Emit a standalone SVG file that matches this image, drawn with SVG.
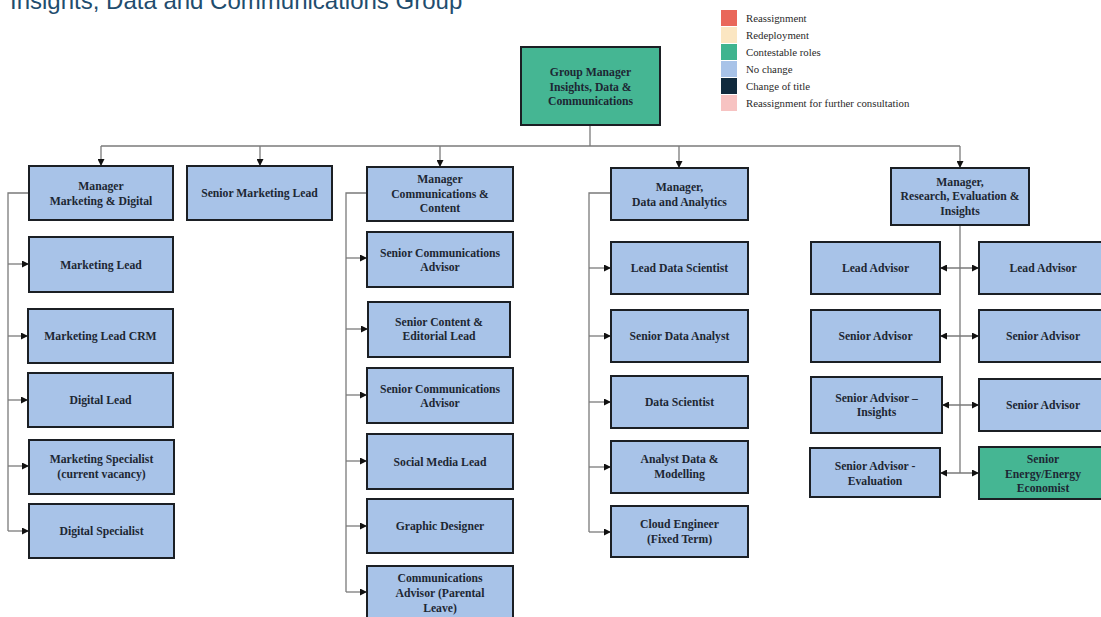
<svg xmlns="http://www.w3.org/2000/svg" width="1101" height="617" viewBox="0 0 1101 617">
  <style>
    .box { fill: #a8c3e8; stroke: #1b1f24; stroke-width: 2; }
    .green { fill: #45b693; stroke: #1b1f24; stroke-width: 2; }
    .lbl { font-family: "Liberation Serif", "DejaVu Serif", serif; font-weight: bold; font-size: 11.7px; fill: #1d2733; text-anchor: middle; }
    .leg { font-family: "Liberation Serif", "DejaVu Serif", serif; font-size: 10.8px; fill: #2a2a2a; }
    .title { font-family: "Liberation Sans", Arial, sans-serif; font-size: 24px; fill: #1f4d6e; }
    .conn { fill: none; stroke: #7a7a7a; stroke-width: 1.3; }
  </style>
  <defs>
    <marker id="arrow" markerWidth="7" markerHeight="7" refX="7" refY="3.5" orient="auto" markerUnits="userSpaceOnUse">
      <path d="M0,0 L7,3.5 L0,7 z" fill="#111"/>
    </marker>
    <marker id="arrowStart" markerWidth="7" markerHeight="7" refX="0" refY="3.5" orient="auto" markerUnits="userSpaceOnUse">
      <path d="M7,0 L0,3.5 L7,7 z" fill="#111"/>
    </marker>
  </defs>
  <rect width="1101" height="617" fill="#ffffff"/>

  <text class="title" x="10" y="9">Insights, Data and Communications Group</text>

  <!-- legend -->
  <g id="legend">
    <rect x="721" y="10" width="16" height="16" fill="#e9675a"/>
    <rect x="721" y="27" width="16" height="16" fill="#fbe6c2"/>
    <rect x="721" y="44" width="16" height="16" fill="#3fb48f"/>
    <rect x="721" y="61" width="16" height="16" fill="#a8c3e8"/>
    <rect x="721" y="78" width="16" height="16" fill="#112b3e"/>
    <rect x="721" y="95" width="16" height="16" fill="#f7c3c2"/>
    <text class="leg" x="746" y="21.5">Reassignment</text>
    <text class="leg" x="746" y="38.5">Redeployment</text>
    <text class="leg" x="746" y="55.5">Contestable roles</text>
    <text class="leg" x="746" y="72.5">No change</text>
    <text class="leg" x="746" y="89.5">Change of title</text>
    <text class="leg" x="746" y="106.5">Reassignment for further consultation</text>
  </g>

  <!-- connectors -->
  <g id="connectors">
    <path class="conn" d="M590,125 V146"/>
    <path class="conn" d="M101,146 H960"/>
    <path class="conn" d="M101,146 V166" marker-end="url(#arrow)"/>
    <path class="conn" d="M260,146 V166" marker-end="url(#arrow)"/>
    <path class="conn" d="M440,146 V167" marker-end="url(#arrow)"/>
    <path class="conn" d="M679,146 V168" marker-end="url(#arrow)"/>
    <path class="conn" d="M960,146 V168" marker-end="url(#arrow)"/>

    <!-- marketing & digital -->
    <path class="conn" d="M29,193 H8 V531"/>
    <path class="conn" d="M8,264 H29" marker-end="url(#arrow)"/>
    <path class="conn" d="M8,336 H28" marker-end="url(#arrow)"/>
    <path class="conn" d="M8,400 H28" marker-end="url(#arrow)"/>
    <path class="conn" d="M8,466 H29" marker-end="url(#arrow)"/>
    <path class="conn" d="M8,531 H29" marker-end="url(#arrow)"/>

    <!-- communications & content -->
    <path class="conn" d="M367,193 H346 V592"/>
    <path class="conn" d="M346,258 H367" marker-end="url(#arrow)"/>
    <path class="conn" d="M346,329 H368" marker-end="url(#arrow)"/>
    <path class="conn" d="M346,395 H367" marker-end="url(#arrow)"/>
    <path class="conn" d="M346,461 H367" marker-end="url(#arrow)"/>
    <path class="conn" d="M346,526 H367" marker-end="url(#arrow)"/>
    <path class="conn" d="M346,592 H367" marker-end="url(#arrow)"/>

    <!-- data and analytics -->
    <path class="conn" d="M611,193 H589 V532"/>
    <path class="conn" d="M589,268 H611" marker-end="url(#arrow)"/>
    <path class="conn" d="M589,336 H611" marker-end="url(#arrow)"/>
    <path class="conn" d="M589,402 H611" marker-end="url(#arrow)"/>
    <path class="conn" d="M589,467 H611" marker-end="url(#arrow)"/>
    <path class="conn" d="M589,532 H611" marker-end="url(#arrow)"/>

    <!-- research, evaluation & insights -->
    <path class="conn" d="M960,225 V473"/>
    <path class="conn" d="M940,268 H979" marker-start="url(#arrowStart)" marker-end="url(#arrow)"/>
    <path class="conn" d="M940,336 H979" marker-start="url(#arrowStart)" marker-end="url(#arrow)"/>
    <path class="conn" d="M942,405 H979" marker-start="url(#arrowStart)" marker-end="url(#arrow)"/>
    <path class="conn" d="M940,473 H979" marker-start="url(#arrowStart)" marker-end="url(#arrow)"/>
  </g>

  <!-- top -->
  <g id="group-manager">
    <rect class="green" x="521" y="47" width="139" height="78"/>
    <text class="lbl" x="590.5" y="76">Group Manager</text>
    <text class="lbl" x="590.5" y="90.5">Insights, Data &amp;</text>
    <text class="lbl" x="590.5" y="105">Communications</text>
  </g>

  <!-- second level -->
  <g id="manager-marketing-digital">
    <rect class="box" x="29" y="166" width="144" height="54"/>
    <text class="lbl" x="101" y="190">Manager</text>
    <text class="lbl" x="101" y="204.5">Marketing &amp; Digital</text>
  </g>
  <g id="senior-marketing-lead">
    <rect class="box" x="187" y="166" width="145" height="54"/>
    <text class="lbl" x="259.5" y="197">Senior Marketing Lead</text>
  </g>
  <g id="manager-communications-content">
    <rect class="box" x="367" y="167" width="146" height="54"/>
    <text class="lbl" x="440" y="183">Manager</text>
    <text class="lbl" x="440" y="197.5">Communications &amp;</text>
    <text class="lbl" x="440" y="212">Content</text>
  </g>
  <g id="manager-data-analytics">
    <rect class="box" x="611" y="168" width="137" height="52"/>
    <text class="lbl" x="679.5" y="191">Manager,</text>
    <text class="lbl" x="679.5" y="205.5">Data and Analytics</text>
  </g>
  <g id="manager-research">
    <rect class="box" x="891" y="168" width="138" height="57"/>
    <text class="lbl" x="960" y="186">Manager,</text>
    <text class="lbl" x="960" y="200">Research, Evaluation &amp;</text>
    <text class="lbl" x="960" y="214.5">Insights</text>
  </g>

  <!-- marketing & digital team -->
  <g id="marketing-lead">
    <rect class="box" x="29" y="237" width="144" height="55"/>
    <text class="lbl" x="101" y="268.5">Marketing Lead</text>
  </g>
  <g id="marketing-lead-crm">
    <rect class="box" x="28" y="309" width="145" height="54"/>
    <text class="lbl" x="100.5" y="340">Marketing Lead CRM</text>
  </g>
  <g id="digital-lead">
    <rect class="box" x="28" y="373" width="145" height="54"/>
    <text class="lbl" x="100.5" y="404">Digital Lead</text>
  </g>
  <g id="marketing-specialist">
    <rect class="box" x="29" y="440" width="145" height="54"/>
    <text class="lbl" x="101.5" y="463">Marketing Specialist</text>
    <text class="lbl" x="101.5" y="478">(current vacancy)</text>
  </g>
  <g id="digital-specialist">
    <rect class="box" x="29" y="504" width="145" height="54"/>
    <text class="lbl" x="101.5" y="535">Digital Specialist</text>
  </g>

  <!-- communications & content team -->
  <g id="senior-communications-advisor-1">
    <rect class="box" x="367" y="232" width="146" height="55"/>
    <text class="lbl" x="440" y="256.5">Senior Communications</text>
    <text class="lbl" x="440" y="271">Advisor</text>
  </g>
  <g id="senior-content-editorial-lead">
    <rect class="box" x="368" y="302" width="142" height="55"/>
    <text class="lbl" x="439" y="326">Senior Content &amp;</text>
    <text class="lbl" x="439" y="340">Editorial Lead</text>
  </g>
  <g id="senior-communications-advisor-2">
    <rect class="box" x="367" y="368" width="146" height="55"/>
    <text class="lbl" x="440" y="392.5">Senior Communications</text>
    <text class="lbl" x="440" y="406.5">Advisor</text>
  </g>
  <g id="social-media-lead">
    <rect class="box" x="367" y="434" width="146" height="55"/>
    <text class="lbl" x="440" y="465.5">Social Media Lead</text>
  </g>
  <g id="graphic-designer">
    <rect class="box" x="367" y="499" width="146" height="54"/>
    <text class="lbl" x="440" y="530">Graphic Designer</text>
  </g>
  <g id="communications-advisor">
    <rect class="box" x="367" y="566" width="146" height="60"/>
    <text class="lbl" x="440" y="582">Communications</text>
    <text class="lbl" x="440" y="596.5">Advisor (Parental</text>
    <text class="lbl" x="440" y="611.5">Leave)</text>
  </g>

  <!-- data and analytics team -->
  <g id="lead-data-scientist">
    <rect class="box" x="611" y="242" width="137" height="52"/>
    <text class="lbl" x="679.5" y="272">Lead Data Scientist</text>
  </g>
  <g id="senior-data-analyst">
    <rect class="box" x="611" y="310" width="137" height="52"/>
    <text class="lbl" x="679.5" y="340">Senior Data Analyst</text>
  </g>
  <g id="data-scientist">
    <rect class="box" x="611" y="376" width="137" height="52"/>
    <text class="lbl" x="679.5" y="406">Data Scientist</text>
  </g>
  <g id="analyst-data-modelling">
    <rect class="box" x="611" y="441" width="137" height="52"/>
    <text class="lbl" x="679.5" y="463">Analyst Data &amp;</text>
    <text class="lbl" x="679.5" y="478">Modelling</text>
  </g>
  <g id="cloud-engineer">
    <rect class="box" x="611" y="506" width="137" height="51"/>
    <text class="lbl" x="679.5" y="528">Cloud Engineer</text>
    <text class="lbl" x="679.5" y="543">(Fixed Term)</text>
  </g>

  <!-- research, evaluation & insights team -->
  <g id="lead-advisor-1">
    <rect class="box" x="811" y="242" width="129" height="52"/>
    <text class="lbl" x="875.5" y="272">Lead Advisor</text>
  </g>
  <g id="lead-advisor-2">
    <rect class="box" x="979" y="242" width="128" height="52"/>
    <text class="lbl" x="1043" y="272">Lead Advisor</text>
  </g>
  <g id="senior-advisor-1">
    <rect class="box" x="811" y="310" width="129" height="52"/>
    <text class="lbl" x="875.5" y="340">Senior Advisor</text>
  </g>
  <g id="senior-advisor-2">
    <rect class="box" x="979" y="310" width="128" height="52"/>
    <text class="lbl" x="1043" y="340">Senior Advisor</text>
  </g>
  <g id="senior-advisor-insights">
    <rect class="box" x="811" y="377" width="131" height="56"/>
    <text class="lbl" x="876.5" y="401.5">Senior Advisor –</text>
    <text class="lbl" x="876.5" y="416">Insights</text>
  </g>
  <g id="senior-advisor-3">
    <rect class="box" x="979" y="379" width="128" height="52"/>
    <text class="lbl" x="1043" y="409">Senior Advisor</text>
  </g>
  <g id="senior-advisor-evaluation">
    <rect class="box" x="810" y="448" width="130" height="49"/>
    <text class="lbl" x="875" y="470">Senior Advisor -</text>
    <text class="lbl" x="875" y="484.5">Evaluation</text>
  </g>
  <g id="senior-energy-economist">
    <rect class="green" x="979" y="447" width="128" height="52"/>
    <text class="lbl" x="1043" y="463">Senior</text>
    <text class="lbl" x="1043" y="477.5">Energy/Energy</text>
    <text class="lbl" x="1043" y="491.5">Economist</text>
  </g>
</svg>
